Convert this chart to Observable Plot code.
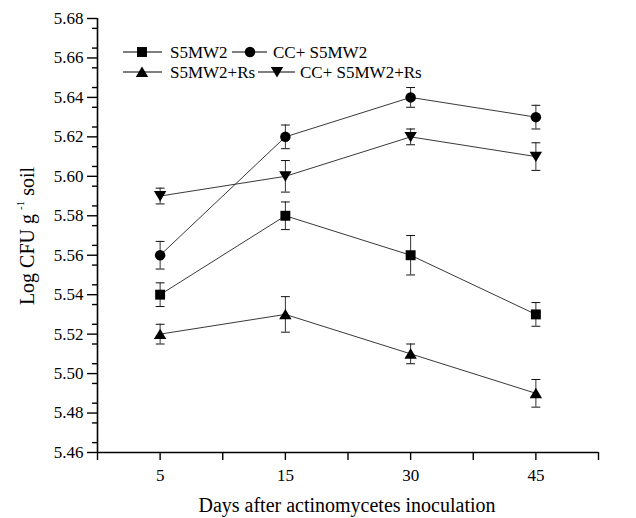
<!DOCTYPE html>
<html>
<head>
<meta charset="utf-8">
<script src="https://cdn.jsdelivr.net/npm/d3@7"></script>
<script src="https://cdn.jsdelivr.net/npm/@observablehq/plot@0.6"></script>
<style>
  body { margin: 0; background: #fff; }
  #chart { position: relative; width: 636px; height: 518px; }
</style>
</head>
<body>
<div id="chart"></div>
<script>
// ---- Data ----
const days = [5, 15, 30, 45];
const seriesNames = ["S5MW2", "CC+ S5MW2", "S5MW2+Rs", "CC+ S5MW2+Rs"];
const s5mw2      = [5.54, 5.58, 5.56, 5.53];
const s5mw2Err   = [0.006, 0.007, 0.010, 0.006];
const ccS5mw2    = [5.56, 5.62, 5.64, 5.63];
const ccS5mw2Err = [0.007, 0.006, 0.005, 0.006];
const s5mw2Rs    = [5.52, 5.53, 5.51, 5.49];
const s5mw2RsErr = [0.005, 0.009, 0.005, 0.007];
const ccS5mw2Rs    = [5.59, 5.60, 5.62, 5.61];
const ccS5mw2RsErr = [0.004, 0.008, 0.004, 0.007];
const yTickLabels = [5.46, 5.48, 5.50, 5.52, 5.54, 5.56, 5.58, 5.60, 5.62, 5.64, 5.66, 5.68];
const xTitle = "Days after actinomycetes inoculation";

// ---- Symbols ----
const symSquare = {draw(c, size) { const s = Math.sqrt(size) * 0.56; c.moveTo(-s, -s); c.lineTo(s, -s); c.lineTo(s, s); c.lineTo(-s, s); c.closePath(); }};
const symCircle = {draw(c, size) { const r = Math.sqrt(size / Math.PI) * 1.05; c.moveTo(r, 0); c.arc(0, 0, r, 0, 2 * Math.PI); }};
const symTriUp = {draw(c, size) { const k = Math.sqrt(size); c.moveTo(0, -0.62 * k); c.lineTo(0.7 * k, 0.56 * k); c.lineTo(-0.7 * k, 0.56 * k); c.closePath(); }};
const symTriDown = {draw(c, size) { const k = Math.sqrt(size); c.moveTo(0, 0.62 * k); c.lineTo(0.7 * k, -0.56 * k); c.lineTo(-0.7 * k, -0.56 * k); c.closePath(); }};
const symCap = {draw(c, size) { const s = Math.sqrt(size) * 0.5; c.moveTo(-s, 0); c.lineTo(s, 0); }};

const seriesDefs = [
  {name: seriesNames[0], values: s5mw2, errs: s5mw2Err, symbol: symSquare},
  {name: seriesNames[1], values: ccS5mw2, errs: ccS5mw2Err, symbol: symCircle},
  {name: seriesNames[2], values: s5mw2Rs, errs: s5mw2RsErr, symbol: symTriUp},
  {name: seriesNames[3], values: ccS5mw2Rs, errs: ccS5mw2RsErr, symbol: symTriDown}
];

const rows = seriesDefs.flatMap(s => days.map((d, i) => ({
  series: s.name, day: d, pos: i + 0.5, value: s.values[i], err: s.errs[i]
})));

const minorTicks = d3.range(0, 22).map(k => +(5.465 + k * 0.01).toFixed(3)).filter(v => v < 5.68);
const boundaryTicks = d3.range(0, days.length + 1);

const marks = [
  Plot.line(rows, {x: "pos", y: "value", z: "series", stroke: "#222", strokeWidth: 0.9}),
  Plot.ruleX(rows, {x: "pos", y1: d => d.value - d.err, y2: d => d.value + d.err, stroke: "#333", strokeWidth: 1}),
  Plot.dot(rows, {x: "pos", y: d => d.value + d.err, symbol: symCap, r: 5, stroke: "#111", strokeWidth: 1, fill: "none"}),
  Plot.dot(rows, {x: "pos", y: d => d.value - d.err, symbol: symCap, r: 5, stroke: "#111", strokeWidth: 1, fill: "none"}),
  ...seriesDefs.map(s => Plot.dot(rows.filter(r => r.series === s.name), {x: "pos", y: "value", symbol: s.symbol, r: 5, fill: "#000", stroke: "none"})),
  Plot.axisY({ticks: yTickLabels, tickFormat: d => d.toFixed(2), tickSize: 10, tickPadding: 4, strokeWidth: 1.4, fontSize: 17, label: null}),
  Plot.axisY({ticks: minorTicks, tickFormat: null, text: null, tickSize: 5, strokeWidth: 1.4, label: null}),
  Plot.axisX({ticks: days.map((d, i) => i + 0.5), tickFormat: p => days[Math.round(p - 0.5)], tickSize: 8, tickPadding: 8, strokeWidth: 1.4, fontSize: 17, label: null}),
  Plot.axisX({ticks: boundaryTicks, tickFormat: null, text: null, tickSize: 8, strokeWidth: 1.4, label: null}),
  Plot.ruleX([0], {stroke: "#000", strokeWidth: 1.6}),
  Plot.ruleY([5.46], {stroke: "#000", strokeWidth: 1.6})
];

const chart = Plot.plot({
  width: 636,
  height: 518,
  marginLeft: 97,
  marginRight: 38,
  marginTop: 18,
  marginBottom: 66,
  style: {fontFamily: "'Liberation Serif', 'Times New Roman', serif", fontSize: "17px", color: "#000", background: "#fff"},
  x: {domain: [0, days.length], axis: null},
  y: {domain: [yTickLabels[0], yTickLabels[yTickLabels.length - 1]], axis: null},
  marks
});

document.getElementById("chart").appendChild(chart);

// ---- Titles ----
const svg = d3.select(chart);
svg.append("text")
  .attr("x", 347).attr("y", 512)
  .attr("text-anchor", "middle")
  .attr("font-size", 20)
  .attr("fill", "#000")
  .text(xTitle);

const yt = svg.append("text")
  .attr("transform", "translate(34,236) rotate(-90)")
  .attr("text-anchor", "middle")
  .attr("font-size", 20)
  .attr("fill", "#000");
yt.append("tspan").text("Log CFU g");
yt.append("tspan").attr("font-size", 11).attr("dx", 4).attr("dy", -10).text("-1");
yt.append("tspan").attr("dy", 10).text(" soil");

// ---- Legend ----
const legendLayout = [
  {x1: 123, x2: 162, cx: 142, tx: 170, y: 52},
  {x1: 232, x2: 267, cx: 250, tx: 273, y: 52},
  {x1: 123, x2: 162, cx: 142, tx: 170, y: 72},
  {x1: 258, x2: 295, cx: 277, tx: 300, y: 72}
];
const lg = svg.append("g").attr("text-anchor", "start");
seriesDefs.forEach((s, i) => {
  const L = legendLayout[i];
  lg.append("line").attr("x1", L.x1).attr("x2", L.x2).attr("y1", L.y).attr("y2", L.y)
    .attr("stroke", "#000").attr("stroke-width", 1.2);
  lg.append("path").attr("transform", `translate(${L.cx},${L.y})`)
    .attr("d", d3.symbol(s.symbol, 25 * Math.PI)()).attr("fill", "#000");
  lg.append("text").attr("x", L.tx).attr("y", L.y).attr("dy", "0.35em")
    .attr("text-anchor", "start")
    .attr("font-size", 17).attr("fill", "#000").text(s.name);
});
</script>
</body>
</html>
